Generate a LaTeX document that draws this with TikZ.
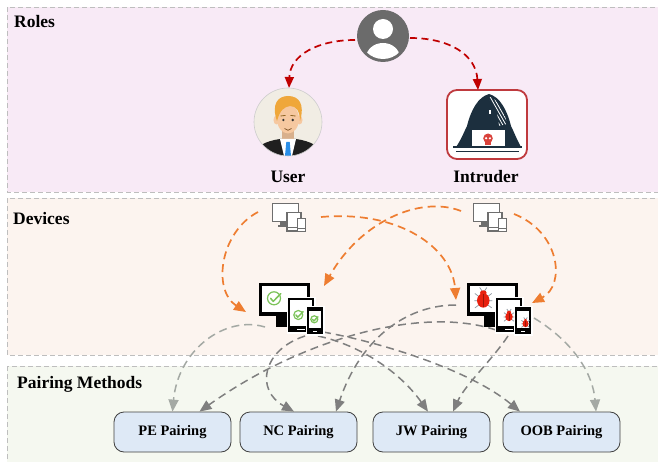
\documentclass[tikz,border=0pt]{standalone}
\usepackage{fontspec}
\setmainfont{Liberation Serif}
\usetikzlibrary{arrows.meta}

\definecolor{rolesbg}{HTML}{F8EAF6}
\definecolor{devbg}{HTML}{FCF4EF}
\definecolor{pairbg}{HTML}{F5F8F0}
\definecolor{panelline}{HTML}{BEBEBE}
\definecolor{redarrow}{HTML}{C00000}
\definecolor{orangearrow}{HTML}{EE7D31}
\definecolor{greyarrow}{HTML}{7F7F7F}
\definecolor{lightarrow}{HTML}{A4A9A4}
\definecolor{boxfill}{HTML}{DEE9F6}
\definecolor{iconnavy}{HTML}{1C2F3E}
\definecolor{intruderred}{HTML}{BF3A3E}
\definecolor{skullred}{HTML}{D9423B}
\definecolor{checkgreen}{HTML}{7CC35A}
\definecolor{bugred}{HTML}{E8200E}
\definecolor{bugdark}{HTML}{9A1408}
\definecolor{buglegs}{HTML}{8C96A0}
\definecolor{anongrey}{HTML}{6B6B6B}
\definecolor{devgrey}{HTML}{6E6E6E}
\definecolor{hairblond}{HTML}{EFA73A}
\definecolor{skin}{HTML}{F6C8A0}
\definecolor{tieblue}{HTML}{2A8FE8}
\definecolor{avatarbg}{HTML}{F1EDE4}

\tikzset{
  panel/.style={draw=panelline, line width=0.8pt, dash pattern=on 5pt off 3pt},
  paneltitle/.style={anchor=base west, inner sep=0pt, font=\fontsize{17.5}{20}\selectfont\bfseries},
  rolename/.style={anchor=base, inner sep=0pt, font=\fontsize{17.5}{20}\selectfont\bfseries},
  method/.style={draw=black!75, line width=0.8pt, fill=boxfill, rounded corners=10pt,
    minimum width=117pt, minimum height=40pt, inner sep=0pt,
    font=\fontsize{14.5}{16}\selectfont\bfseries},
  iconbox/.style={inner sep=0pt, outer sep=0pt},
  rolearrow/.style={draw=redarrow, line width=1.7pt, dash pattern=on 7pt off 4.5pt,
    -{Triangle[length=11pt,width=9pt]}},
  devarrow/.style={draw=orangearrow, line width=1.7pt, dash pattern=on 8pt off 5pt,
    -{Triangle[length=12pt,width=10pt]}},
  pairarrow/.style={draw=greyarrow, line width=1.5pt, dash pattern=on 8pt off 5pt,
    -{Triangle[length=12pt,width=10pt]}},
  pairarrowlight/.style={pairarrow, draw=lightarrow},
  % small grey device group, origin at top-left corner
  smalldev/.pic={
    \draw[devgrey, line width=1.3pt, fill=white] (0.7,0.7) rectangle (26.3,18.3);
    \fill[devgrey] (8,18) rectangle (15,22.5);
    \fill[devgrey] (5.5,22) rectangle (16,24);
    \draw[devgrey, line width=1.2pt, fill=white] (15,9.5) rectangle (29,28);
    \draw[devgrey, line width=0.6pt] (15,24.5) -- (29,24.5);
    \draw[devgrey, line width=1.2pt, fill=white] (25.5,15.5) rectangle (33.5,28.5);
    \draw[devgrey, line width=0.6pt] (25.5,25.5) -- (33.5,25.5);
  },
  % large black device group, origin at top-left corner
  bigdev/.pic={
    \fill[black] (0,0) rectangle (51,32.5);
    \fill[white] (3,3) rectangle (48,28.5);
    \fill[black] (17,32) rectangle (31,44);
    \fill[white] (27.5,13.5) rectangle (56.5,50.5);
    \fill[black] (29,15) rectangle (55,49);
    \fill[white] (31,17) rectangle (53,43);
    \fill[white] (38,45.5) rectangle (46,46.6);
    \fill[white] (46.5,22.5) rectangle (65.5,52.5);
    \fill[black] (48,24) rectangle (64,51);
    \fill[white] (49.8,27.5) rectangle (62.2,45);
    \fill[white] (54,47.5) rectangle (58,48.6);
  },
  checkicon/.pic={
    \draw[checkgreen, line width=1.2pt] (0,0) circle [radius=5];
    \draw[checkgreen, line width=1.5pt, line cap=round, line join=round]
      (-2.6,0) -- (-0.6,2.4) -- (5.2,-3.6);
  },
  bugicon/.pic={
    \draw[buglegs, line width=0.7pt]
      (-3,-1) -- (-7,-4) (-3,2) -- (-7.5,2) (-3,5) -- (-7,8)
      (3,-1) -- (7,-4) (3,2) -- (7.5,2) (3,5) -- (7,8)
      (-1,-6) -- (-3,-9) (1,-6) -- (3,-9);
    \fill[bugred] (0,-4.5) ellipse [x radius=2.8, y radius=2.2];
    \fill[bugred] (0,1.8) ellipse [x radius=5.2, y radius=6];
    \draw[bugdark, line width=0.5pt] (0,-3.5) -- (0,7.5);
  },
}

\begin{document}
\begin{tikzpicture}[x=1pt, y=-1pt]
\useasboundingbox (0,0) rectangle (658,462);
\clip (0,0) rectangle (658,462);

% ---- panels ----
\fill[rolesbg] (7,7) rectangle (666,192);
\draw[panel] (7,7) rectangle (666,192);
\fill[devbg] (7,198) rectangle (666,355);
\draw[panel] (7,198) rectangle (666,355);
\fill[pairbg] (7,366) rectangle (666,472);
\draw[panel] (7,366) rectangle (666,472);

\node[paneltitle] (rolestitle) at (14,28) {Roles};
\node[paneltitle] (devtitle) at (13,225) {Devices};
\node[paneltitle] (pairtitle) at (17,388) {Pairing Methods};

% ---- anchor nodes for the icons ----
\node[iconbox, circle, fill=anongrey, minimum size=52pt] (anon) at (383,36) {};
\node[iconbox, circle, minimum size=68pt] (user) at (288,122) {};
\node[iconbox, draw=intruderred, line width=1.8pt, rounded corners=10pt, fill=white,
      minimum width=80pt, minimum height=69pt] (intr) at (487,124.5) {};
\node[iconbox, minimum width=34pt, minimum height=29pt] (udev0) at (289,217.5) {};
\node[iconbox, minimum width=34pt, minimum height=29pt] (idev0) at (490,217.5) {};
\node[iconbox, minimum width=64pt, minimum height=51pt] (udev) at (291,308.5) {};
\node[iconbox, minimum width=64pt, minimum height=51pt] (idev) at (499,308.5) {};

% ---- pairing method boxes ----
\node[method] (pe)  at (172.5,432) {PE Pairing};
\node[method] (nc)  at (298.5,432) {NC Pairing};
\node[method] (jw)  at (431.5,432) {JW Pairing};
\node[method] (oob) at (561.5,432) {OOB Pairing};

% ---- device to pairing method connectors ----
\draw[pairarrowlight] ([shift={(-26,18.5)}]udev.center) .. controls (225,315) and (178,350) .. (pe.north);
\draw[pairarrow] ([shift={(14,27.5)}]udev.center) .. controls (262,350) and (255,390) .. ([xshift=-4.5pt]nc.north);
\draw[pairarrow] ([shift={(27,27.5)}]udev.center) .. controls (360,345) and (400,372) .. ([xshift=-3.5pt]jw.north);
\draw[pairarrow] ([shift={(32,23.5)}]udev.center) .. controls (380,342) and (470,370) .. ([xshift=-41.5pt]oob.north);
\draw[pairarrow] ([shift={(-3,21.5)}]idev.center) .. controls (420,305) and (300,340) .. ([xshift=27pt]pe.north);
\draw[pairarrow] ([shift={(-43,-3.5)}]idev.center) .. controls (405,305) and (360,340) .. ([xshift=37.5pt]nc.north);
\draw[pairarrow] ([shift={(9,27.5)}]idev.center) .. controls (492,360) and (465,385) .. ([xshift=21.5pt]jw.north);
\draw[pairarrowlight] ([shift={(35,9.5)}]idev.center) .. controls (575,343) and (593,375) .. ([xshift=34.5pt]oob.north);

% ---- device assignment connectors ----
\draw[devarrow] ([shift={(-31,-5.5)}]udev0.center) .. controls (220,232) and (212,290) .. ([shift={(-45,3.5)}]udev.center);
\draw[devarrow] ([shift={(32,-0.5)}]udev0.center) .. controls (400,210) and (452,248) .. ([shift={(-43,-8.5)}]idev.center);
\draw[devarrow] ([shift={(-29,-6.5)}]idev0.center) .. controls (420,195) and (360,222) .. ([shift={(33,-22.5)}]udev.center);
\draw[devarrow] ([shift={(24,-3.5)}]idev0.center) .. controls (560,232) and (566,285) .. ([shift={(33,-5.5)}]idev.center);

% ---- role connectors ----
\draw[rolearrow] ([shift={(-28,4)}]anon.center) .. controls (318,40) and (290,55) .. ([xshift=1pt]user.north);
\draw[rolearrow] ([shift={(27,2)}]anon.center) .. controls (450,38) and (476,55) .. ([xshift=-9pt]intr.north);

% ---- generic person ----
\fill[white] (383,29) circle [radius=10pt];
\begin{scope}
  \clip (383,36) circle [radius=23pt];
  \fill[white] (383,58) ellipse [x radius=17pt, y radius=15pt];
\end{scope}

% ---- user avatar ----
\begin{scope}
  \clip (288,122) circle [radius=34pt];
  \fill[avatarbg] (288,122) circle [radius=34pt];
  \fill[black!88] (250,160) .. controls (254,146) and (266,141) .. (280,139)
    -- (296,139) .. controls (310,141) and (322,146) .. (326,160) -- cycle;
  \fill[skin!88!black] (282,127) rectangle (294,142);
  \fill[white] (280,139) -- (296,139) -- (291.5,158) -- (284.5,158) -- cycle;
  \fill[tieblue] (286.3,142) -- (289.7,142) -- (291.2,158) -- (284.8,158) -- cycle;
  \fill[skin] (276.5,120) ellipse [x radius=3pt, y radius=4.5pt];
  \fill[skin] (299.5,120) ellipse [x radius=3pt, y radius=4.5pt];
  \fill[skin] (288,119) ellipse [x radius=11pt, y radius=14.5pt];
  \fill[hairblond] (277,121) .. controls (271,104) and (278,96) .. (288,96)
    .. controls (299,96) and (305,104) .. (300,121)
    .. controls (300,111) and (296,106) .. (290,106)
    .. controls (284,107) and (280,110) .. (277,121) -- cycle;
  \fill[black!80] (283.3,120) circle [radius=1.3pt];
  \fill[black!80] (292.7,120) circle [radius=1.3pt];
  \draw[hairblond!60!black, line width=0.8pt] (280.5,116) -- (285.5,115.4);
  \draw[hairblond!60!black, line width=0.8pt] (290.5,115.4) -- (295.5,116);
  \draw[brown!70!black, line width=0.8pt] (284.5,128.5) .. controls (286.5,130.8) and (289.5,130.8) .. (291.5,128.5);
\end{scope}
\draw[black!20, line width=0.6pt] (288,122) circle [radius=34pt];

% ---- hooded intruder ----
\fill[iconnavy] (456,147) .. controls (461,140) and (464,132) .. (467,126)
  .. controls (471,110) and (478,97) .. (489,94)
  .. controls (500,97) and (507,110) .. (511,126)
  .. controls (514,132) and (517,140) .. (521,147) -- cycle;
\begin{scope}
  \clip (490,97) .. controls (498,100) and (504,110) .. (507,124) -- (499,126)
    .. controls (498,113) and (495,105) .. (489.5,100.5) -- cycle;
  \foreach \k in {0,...,8}
    \draw[white, line width=0.8pt] (480+3.2*\k,96) -- (497+3.2*\k,126);
\end{scope}
\fill[white] (489.4,110.5) rectangle (490.6,114.5);
\fill[white] (471.5,130.5) rectangle (504.5,146.5);
\fill[skullred] (488,138.3) circle [radius=4.8pt];
\fill[skullred] (485,140) rectangle (491,144.6);
\fill[white] (486.1,138.3) circle [radius=1.2pt];
\fill[white] (489.9,138.3) circle [radius=1.2pt];
\fill[iconnavy] (453,146.5) rectangle (522,148.5);
\draw[iconnavy, line width=0.6pt] (456,151) -- (519,151);

% ---- devices ----
\pic at (272,203) {smalldev};
\pic at (473,203) {smalldev};
\pic at (259,283) {bigdev};
\pic at (467,283) {bigdev};
\pic[scale=1.3] at (274,298.3) {checkicon};
\pic[scale=0.9] at (298.3,315) {checkicon};
\pic[scale=0.7] at (314.3,319.3) {checkicon};
\pic[scale=1.2] at (483.3,298.3) {bugicon};
\pic[scale=0.72] at (509,315.5) {bugicon};
\pic[scale=0.58] at (525.5,322.7) {bugicon};

% ---- role names ----
\node[rolename] (userlbl) at (288,183) {User};
\node[rolename] (intrlbl) at (486,183) {Intruder};
\end{tikzpicture}
\end{document}
